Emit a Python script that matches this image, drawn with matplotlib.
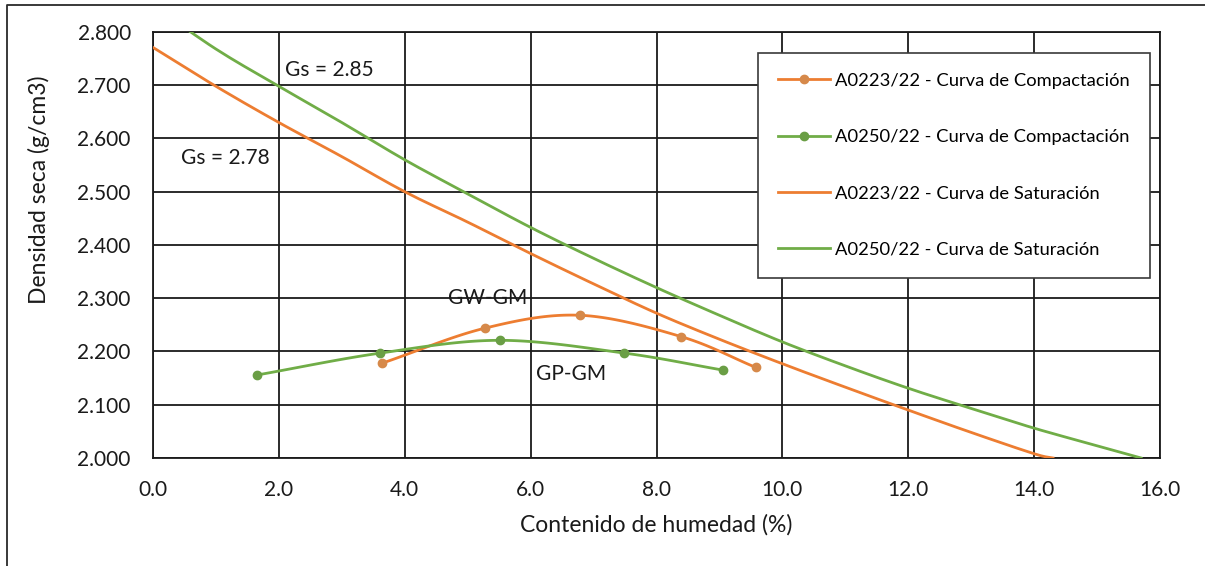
import numpy as np
import matplotlib
matplotlib.use("Agg")
import matplotlib.pyplot as plt
from matplotlib.lines import Line2D

plt.rcParams['font.family'] = ['Lato', 'DejaVu Sans']

# Compaction tests (water content %, dry density g/cm3)
comp1_w = [3.64, 5.28, 6.79, 8.39, 9.58]
comp1_d = [2.178, 2.244, 2.268, 2.228, 2.170]
comp2_w = [1.66, 3.61, 5.51, 7.49, 9.06]
comp2_d = [2.156, 2.197, 2.221, 2.197, 2.165]

# Zero-air-voids (saturation) curves
sat1_w = [0, 1, 2, 3, 4, 5, 6, 7, 8, 9, 10, 11, 12, 13, 14, 14.3]
sat1_d = [2.771, 2.698, 2.630, 2.566, 2.500, 2.443, 2.384, 2.327, 2.272,
          2.223, 2.177, 2.133, 2.090, 2.048, 2.008, 2.000]
sat2_w = [0, 1, 2, 3, 4, 5, 6, 7, 8, 9, 10, 11, 12, 13, 14, 15, 15.7]
sat2_d = [2.850, 2.768, 2.698, 2.630, 2.560, 2.496, 2.433, 2.375, 2.320,
          2.268, 2.218, 2.173, 2.131, 2.093, 2.056, 2.023, 2.000]

labels = ["A0223/22 - Curva de Compactación",
          "A0250/22 - Curva de Compactación",
          "A0223/22 - Curva de Saturación",
          "A0250/22 - Curva de Saturación"]
x_ticks = [0, 2, 4, 6, 8, 10, 12, 14, 16]
y_ticks = [2.0, 2.1, 2.2, 2.3, 2.4, 2.5, 2.6, 2.7, 2.8]

ORANGE = "#ED7D31"
GREEN = "#70AD47"
ORANGE_MK = "#D6894A"
GREEN_MK = "#6A9E45"
INK = "#1a1a1a"


def smooth(x, y, n=30):
    """Catmull-Rom spline through the points (spreadsheet-style smoothing)."""
    x = np.asarray(x, float)
    y = np.asarray(y, float)
    px = np.concatenate([[2 * x[0] - x[1]], x, [2 * x[-1] - x[-2]]])
    py = np.concatenate([[2 * y[0] - y[1]], y, [2 * y[-1] - y[-2]]])
    xs, ys = [], []
    t = np.linspace(0, 1, n)
    for i in range(1, len(px) - 2):
        for P, out in ((px, xs), (py, ys)):
            p0, p1, p2, p3 = P[i - 1], P[i], P[i + 1], P[i + 2]
            out.append(0.5 * ((2 * p1) + (-p0 + p2) * t
                              + (2 * p0 - 5 * p1 + 4 * p2 - p3) * t ** 2
                              + (-p0 + 3 * p1 - 3 * p2 + p3) * t ** 3))
    return np.concatenate(xs), np.concatenate(ys)


fig = plt.figure(figsize=(12.05, 5.66), dpi=100)
fig.patch.set_facecolor("white")
# chart-area border (left and top edges)
fig.add_artist(Line2D([7 / 1205, 7 / 1205, 1.0], [0.0, 1 - 5 / 566, 1 - 5 / 566],
                      transform=fig.transFigure, color="#2a2a2a", lw=1.3))

ax = fig.add_axes([153 / 1205, 1 - 458 / 566, 1007 / 1205, 426 / 566])

sx, sy = smooth(comp1_w, comp1_d)
ax.plot(sx, sy, color=ORANGE, lw=2.0, zorder=4)
ax.plot(comp1_w, comp1_d, 'o', color=ORANGE_MK, ms=6, zorder=5)
sx, sy = smooth(comp2_w, comp2_d)
ax.plot(sx, sy, color=GREEN, lw=2.0, zorder=4)
ax.plot(comp2_w, comp2_d, 'o', color=GREEN_MK, ms=6, zorder=5)

sx, sy = smooth(sat1_w, sat1_d, 10)
ax.plot(sx, sy, color=ORANGE, lw=2.0, zorder=3)
sx, sy = smooth(sat2_w, sat2_d, 10)
ax.plot(sx, sy, color=GREEN, lw=2.0, zorder=3)

ax.set_xlim(0, 16)
ax.set_ylim(2.0, 2.8)
ax.set_xticks(x_ticks)
ax.set_yticks(y_ticks)
ax.set_xticklabels([f"{v:.1f}" for v in x_ticks])
ax.set_yticklabels([f"{v:.3f}" for v in y_ticks])
ax.tick_params(length=0, labelsize=15, colors=INK)
ax.tick_params(axis='x', pad=16)
ax.tick_params(axis='y', pad=16)
ax.grid(True, color=INK, lw=1.3)
ax.set_axisbelow(True)
for s in ax.spines.values():
    s.set_color(INK)
    s.set_linewidth(1.3)

ax.set_xlabel("Contenido de humedad (%)", fontsize=16.5, labelpad=10, color=INK)
ax.set_ylabel("Densidad seca (g/cm3)", fontsize=16.5, color=INK)
ax.yaxis.set_label_coords(-0.102, 0.63)

ax.text(2.1, 2.729, "Gs = 2.85", fontsize=15, va="center", color=INK)
ax.text(0.44, 2.563, "Gs = 2.78", fontsize=15, va="center", color=INK)
ax.text(4.69, 2.300, "GW-GM", fontsize=15, va="center", color=INK)
ax.text(6.09, 2.158, "GP-GM", fontsize=15, va="center", color=INK)

handles = [Line2D([], [], color=ORANGE, lw=2, marker='o', mfc=ORANGE_MK, mec=ORANGE_MK, ms=6),
           Line2D([], [], color=GREEN, lw=2, marker='o', mfc=GREEN_MK, mec=GREEN_MK, ms=6),
           Line2D([], [], color=ORANGE, lw=2),
           Line2D([], [], color=GREEN, lw=2)]
leg = ax.legend(handles, labels, loc="upper left",
                bbox_to_anchor=(758 / 1205, 1 - 52.7 / 566),
                bbox_transform=fig.transFigure, fontsize=13.2,
                frameon=True, fancybox=False, framealpha=1,
                edgecolor="#3a3a3a", borderpad=1.1, labelspacing=2.2,
                handlelength=2.8, handletextpad=0.3, borderaxespad=0)
leg.get_frame().set_linewidth(1.2)
leg.set_zorder(10)

fig.savefig("out.png", dpi=100, facecolor="white")
